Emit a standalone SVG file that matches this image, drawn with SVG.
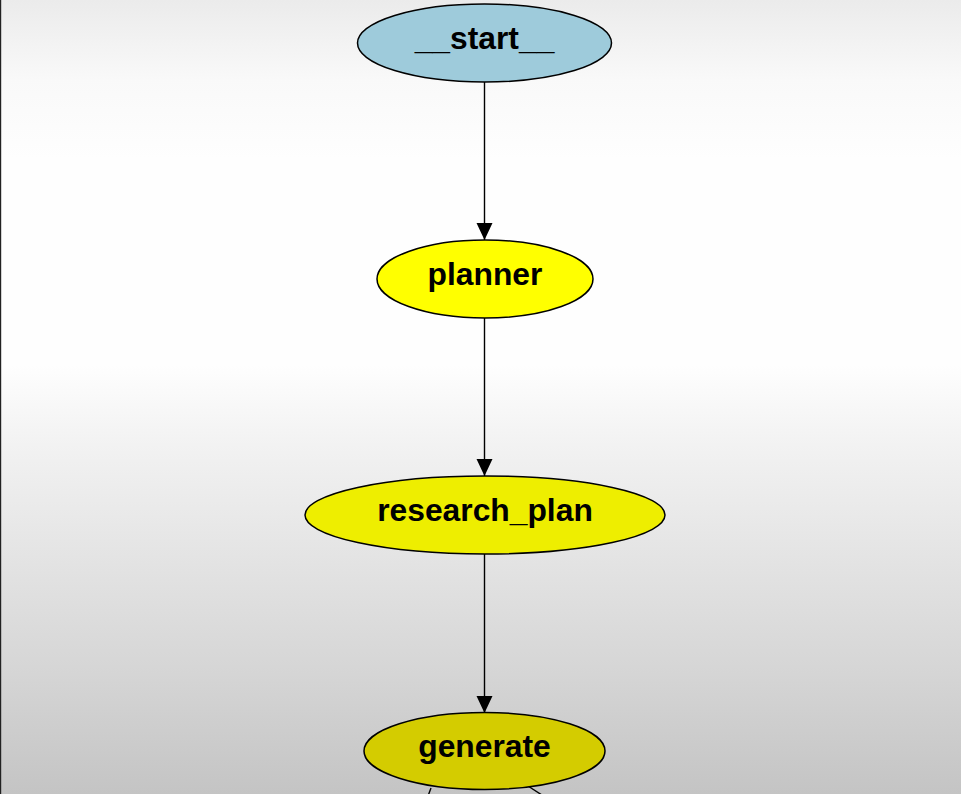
<svg xmlns="http://www.w3.org/2000/svg" width="961" height="794" viewBox="0 0 961 794">
<defs>
<linearGradient id="bg" x1="0" y1="0" x2="0" y2="1">
<stop offset="0" stop-color="#ebebeb"/>
<stop offset="0.1" stop-color="#f9f9f9"/>
<stop offset="0.2" stop-color="#fefefe"/>
<stop offset="0.46" stop-color="#fefefe"/>
<stop offset="0.56" stop-color="#f2f2f2"/>
<stop offset="0.68" stop-color="#e6e6e6"/>
<stop offset="0.84" stop-color="#d6d6d6"/>
<stop offset="1" stop-color="#c4c4c4"/>
</linearGradient>
<marker id="arr" markerUnits="userSpaceOnUse" markerWidth="18" markerHeight="18" viewBox="0 0 18 18" refX="17" refY="9" orient="auto">
<path d="M0,1 L17,9 L0,17 Z" fill="#000"/>
</marker>
</defs>
<style>
.node ellipse{stroke:#000;stroke-width:1.5}
.node text{font-family:"Liberation Sans",Arial,sans-serif;font-weight:bold;font-size:31.8px;text-anchor:middle;fill:#000}
.edge{stroke:#000;stroke-width:1.4;fill:none}
</style>
<rect x="0" y="0" width="961" height="794" fill="url(#bg)"/>
<rect x="0" y="0" width="1.2" height="794" fill="#222"/>
<g id="connectors">
<path class="edge" d="M484.5,82 L484.5,240" marker-end="url(#arr)"/>
<path class="edge" d="M484.5,318 L484.5,476" marker-end="url(#arr)"/>
<path class="edge" d="M484.5,554 L484.5,713" marker-end="url(#arr)"/>
<path class="edge" d="M431,788 L428,796"/>
<path class="edge" d="M528,786 L545,797"/>
</g>
<g id="start" class="node">
<ellipse cx="484.5" cy="43" rx="127" ry="39" fill="#9ecbdb"/>
<text x="484.5" y="49">__start__</text>
</g>
<g id="planner" class="node">
<ellipse cx="485" cy="279" rx="108" ry="39" fill="#ffff00"/>
<text x="485" y="285">planner</text>
</g>
<g id="research_plan" class="node">
<ellipse cx="485" cy="515" rx="180" ry="39" fill="#eeee00"/>
<text x="485" y="521">research_plan</text>
</g>
<g id="generate" class="node">
<ellipse cx="484.5" cy="751" rx="120.5" ry="38.5" fill="#d4cc00"/>
<text x="484.5" y="757">generate</text>
</g>
</svg>
